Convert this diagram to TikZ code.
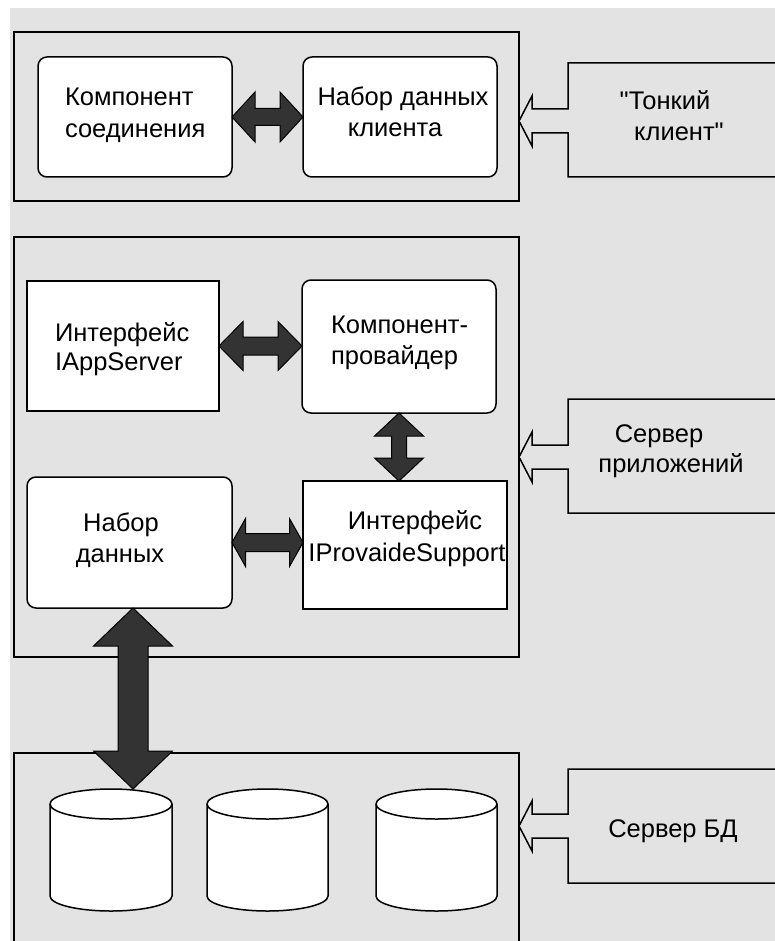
\documentclass[tikz,border=0pt]{standalone}
\usepackage{fontspec}
\setmainfont{Liberation Sans}[Ligatures=TeXOff]
\usetikzlibrary{calc}
\definecolor{bggray}{RGB}{227,227,227}
\definecolor{arrowdark}{RGB}{51,51,51}
\tikzset{
  outerbox/.style={draw, line width=1.5pt, inner sep=0pt, outer sep=0pt, anchor=north west},
  rbox/.style={draw, fill=white, line width=1.5pt, rounded corners=9pt, inner sep=0pt, outer sep=0pt, anchor=north west},
  sbox/.style={draw, fill=white, line width=1.5pt, inner sep=0pt, outer sep=0pt, anchor=north west},
  dbslot/.style={inner sep=0pt, outer sep=0pt, anchor=north west, minimum height=122pt},
  lbl/.style={inner sep=0pt, outer sep=0pt, font=\fontsize{25.5}{31}\selectfont},
  blockarrow/.style={draw=black, fill=arrowdark, line width=1pt, line join=miter},
  callout/.style={draw, line width=1.5pt, fill=bggray, line join=miter},
  cyl/.style={draw, fill=white, line width=1.5pt},
}
% horizontal double block arrow: #1 left tip, #2 right tip, #3 head length, #4 head half height, #5 shaft half height
\newcommand\hdarrow[5]{%
  \draw[blockarrow] let \p1=(#1), \p2=(#2) in
   (\x1,\y1) -- (\x1+#3pt,\y1+#4pt) -- (\x1+#3pt,\y1+#5pt) -- (\x2-#3pt,\y1+#5pt) -- (\x2-#3pt,\y1+#4pt)
   -- (\x2,\y1) -- (\x2-#3pt,\y1-#4pt) -- (\x2-#3pt,\y1-#5pt) -- (\x1+#3pt,\y1-#5pt) -- (\x1+#3pt,\y1-#4pt) -- cycle;}
% vertical double block arrow: #1 top tip, #2 bottom tip
\newcommand\vdarrow[5]{%
  \draw[blockarrow] let \p1=(#1), \p2=(#2) in
   (\x1,\y1) -- (\x1+#4pt,\y1-#3pt) -- (\x1+#5pt,\y1-#3pt) -- (\x1+#5pt,\y2+#3pt) -- (\x1+#4pt,\y2+#3pt)
   -- (\x1,\y2) -- (\x1-#4pt,\y2+#3pt) -- (\x1-#5pt,\y2+#3pt) -- (\x1-#5pt,\y1-#3pt) -- (\x1-#4pt,\y1-#3pt) -- cycle;}
% cylinder drawn inside a named slot node
\newcommand\dbcyl[1]{%
  \draw[cyl] let \p1=(#1.north west), \p2=(#1.south east) in
   (\x1,\y1-15pt) -- (\x1,\y2+15pt) arc[start angle=180, end angle=360, x radius={(\x2-\x1)/2}, y radius=15pt]
   -- (\x2,\y1-15pt) arc[start angle=0, end angle=180, x radius={(\x2-\x1)/2}, y radius=15pt] -- cycle;
  \draw[line width=1.5pt] let \p1=(#1.north west), \p2=(#1.south east) in
   (\x1,\y1-15pt) arc[start angle=180, end angle=360, x radius={(\x2-\x1)/2}, y radius=15pt];}
% callout with open arrow pointing left: #1 top, #2 arrow middle, #3 bottom
\newcommand\callout[3]{%
  \draw[callout] (780,#1) -- (568,#1) -- (568,#2-12) -- (532,#2-12) -- (532,#2-25) -- (519,#2)
   -- (532,#2+25) -- (532,#2+12) -- (568,#2+12) -- (568,#3) -- (780,#3);}
\begin{document}
\begin{tikzpicture}[x=1pt, y=-1pt]
\useasboundingbox (0,0) rectangle (775,941);
\clip (0,0) rectangle (775,941);
\fill[white] (0,0) rectangle (775,941);
\fill[bggray] (10,8) rectangle (775,941);

% callouts
\callout{63}{121}{177}
\callout{399}{457}{513}
\callout{769}{826}{883}
\node[lbl, anchor=base] (tc1) at (665,110) {"Тонкий};
\node[lbl, anchor=base] (tc2) at (679,141) {клиент"};
\node[lbl, anchor=base] (sp1) at (659,442) {Сервер};
\node[lbl, anchor=base] (sp2) at (671,472) {приложений};
\node[lbl, anchor=base] (sdb) at (673,837) {Сервер БД};

% outer boxes
\node[outerbox, minimum width=505pt, minimum height=169pt] (client) at (14,32) {};
\node[outerbox, minimum width=505pt, minimum height=420pt] (appsrv) at (14,237) {};
\node[outerbox, minimum width=505pt, minimum height=220pt] (dbsrv) at (14,753) {};

% inner boxes
\node[rbox, minimum width=194pt, minimum height=120pt] (k1) at (38,57) {};
\node[rbox, minimum width=194pt, minimum height=120pt] (k2) at (303,57) {};
\node[sbox, minimum width=192pt, minimum height=130pt] (ias) at (27,281) {};
\node[rbox, minimum width=194pt, minimum height=133pt] (prov) at (302,280) {};
\node[rbox, minimum width=205pt, minimum height=131pt] (nd) at (27,477) {};
\node[sbox, minimum width=204pt, minimum height=128pt] (ips) at (303,481) {};

% texts
\node[lbl, anchor=base west] (k1a) at (65,106) {Компонент};
\node[lbl, anchor=base west] (k1b) at (65,138) {соединения};
\node[lbl, anchor=base] (k2a) at (403,106) {Набор данных};
\node[lbl, anchor=base] (k2b) at (395,137) {клиента};
\node[lbl, anchor=base west] (iasa) at (55,341) {Интерфейс};
\node[lbl, anchor=base west] (iasb) at (55,370) {IAppServer};
\node[lbl, anchor=base west] (prova) at (331,333) {Компонент-};
\node[lbl, anchor=base west] (provb) at (331,364) {провайдер};
\node[lbl, anchor=base] (nda) at (121,531) {Набор};
\node[lbl, anchor=base] (ndb) at (120,562) {данных};
\node[lbl, anchor=base] (ipsa) at (415,529) {Интерфейс};
\node[lbl, anchor=base] (ipsb) at (407,561) {IProvaideSupport};

% databases
\node[dbslot, minimum width=122pt] (db1) at (50,789) {};
\node[dbslot, minimum width=121pt] (db2) at (207,789) {};
\node[dbslot, minimum width=121pt] (db3) at (376,789) {};
\dbcyl{db1}
\dbcyl{db2}
\dbcyl{db3}

% connectors
\hdarrow{k1.east}{k2.west}{23}{25}{8.5}
\hdarrow{ias.east}{prov.west}{24}{24.5}{9}
\vdarrow{prov.south}{prov.south |- ips.north}{23}{24.5}{7.5}
\hdarrow{nd.east}{ips.west}{13.5}{24}{9}
\coordinate (ba1) at ($(nd.south)+(3.5,0)$);
\coordinate (ba2) at (ba1 |- db1.north);
\vdarrow{ba1}{ba2}{38}{39.5}{15}
\end{tikzpicture}
\end{document}
